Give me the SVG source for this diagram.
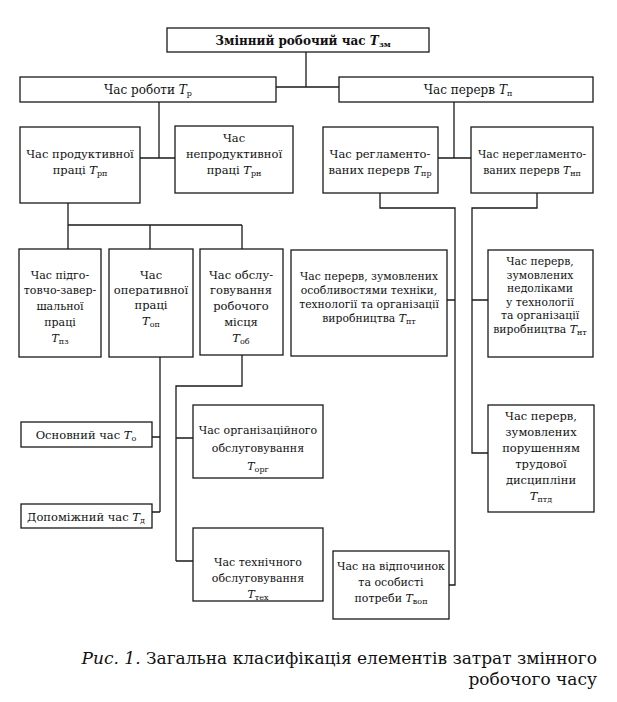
<svg xmlns="http://www.w3.org/2000/svg" width="617" height="702" viewBox="0 0 617 702">
<style>
rect.b{fill:#fff;stroke:#1a1a1a;stroke-width:1.3}
text{font-family:"DejaVu Serif","Liberation Serif",serif;font-size:11.5px;fill:#111;text-anchor:middle}
.i{font-style:italic}
.s{font-size:8px}
#connectors path{fill:none;stroke:#1a1a1a;stroke-width:1.3}
text.cap{font-size:17px;text-anchor:end}
text.t{font-size:10.8px}
text.m{font-size:12px}
text.k{font-size:11px}
</style>
<rect width="617" height="702" fill="#fff"/>
<g id="connectors">
<path d="M306,52V87M276,87H339"/>
<path d="M159,102V158M140,158H175"/>
<path d="M454,102V158M438,158H471"/>
<path d="M68,203V225M68,225H242M68,225V249M150,225V249M242,225V249"/>
<path d="M160,357V512M152,437H160M152,512H160"/>
<path d="M242,355V386H176V561M176,438H193M176,561H193"/>
<path d="M380,193V208H455V585H449M447,300H455"/>
<path d="M537,193V208H472V453H488M472,300H488"/>
</g>
<g id="n-total"><rect class="b" x="167" y="28" width="262" height="24"/>
<text class="m" x="303" y="45" font-weight="bold" font-size="12.5">Змінний робочий час <tspan class="i">T</tspan><tspan class="s" dy="2">зм</tspan></text></g>
<g id="n-work"><rect class="b" x="20" y="77" width="256" height="25"/>
<text class="m" x="148" y="94">Час роботи <tspan class="i">T</tspan><tspan class="s" dy="2">р</tspan></text></g>
<g id="n-breaks"><rect class="b" x="339" y="77" width="254" height="25"/>
<text class="m" x="468" y="94">Час перерв <tspan class="i">T</tspan><tspan class="s" dy="2">п</tspan></text></g>
<g id="n-prod"><rect class="b" x="20" y="127" width="120" height="76"/>
<text x="80" y="158">Час продуктивної</text>
<text x="80" y="174">праці   <tspan class="i">T</tspan><tspan class="s" dy="2">рп</tspan></text></g>
<g id="n-unprod"><rect class="b" x="175" y="126" width="118" height="67"/>
<text x="234" y="142">Час</text>
<text x="234" y="158">непродуктивної</text>
<text x="234" y="174">праці <tspan class="i">T</tspan><tspan class="s" dy="2">рн</tspan></text></g>
<g id="n-reg"><rect class="b" x="323" y="127" width="115" height="66"/>
<text x="380" y="158">Час регламенто-</text>
<text x="380" y="174">ваних перерв <tspan class="i">T</tspan><tspan class="s" dy="2">пр</tspan></text></g>
<g id="n-nonreg"><rect class="b" x="471" y="127" width="122" height="66"/>
<text class="t" x="532" y="158">Час нерегламенто-</text>
<text class="t" x="532" y="174">ваних перерв <tspan class="i">T</tspan><tspan class="s" dy="2">нп</tspan></text></g>
<g id="n-pz"><rect class="b" x="19" y="249" width="82" height="108"/>
<text class="k" x="60" y="279">Час підго-</text>
<text class="k" x="60" y="294">товчо-завер-</text>
<text class="k" x="60" y="310">шальної</text>
<text class="k" x="60" y="326">праці</text>
<text class="k" x="60" y="342"><tspan class="i">T</tspan><tspan class="s" dy="2">пз</tspan></text></g>
<g id="n-op"><rect class="b" x="109" y="249" width="84" height="108"/>
<text x="151" y="279">Час</text>
<text x="151" y="294">оперативної</text>
<text x="151" y="309">праці</text>
<text x="151" y="325"><tspan class="i">T</tspan><tspan class="s" dy="2">оп</tspan></text></g>
<g id="n-ob"><rect class="b" x="200" y="249" width="83" height="106"/>
<text x="241" y="279">Час обслу-</text>
<text x="241" y="294">говування</text>
<text x="241" y="310">робочого</text>
<text x="241" y="326">місця</text>
<text x="241" y="342"><tspan class="i">T</tspan><tspan class="s" dy="2">об</tspan></text></g>
<g id="n-pt"><rect class="b" x="291" y="250" width="156" height="106"/>
<text class="t" x="369" y="280">Час перерв, зумовлених</text>
<text class="t" x="369" y="294">особливостями техніки,</text>
<text class="t" x="369" y="308">технології та організації</text>
<text class="t" x="369" y="322">виробництва <tspan class="i">T</tspan><tspan class="s" dy="2">пт</tspan></text></g>
<g id="n-nt"><rect class="b" x="488" y="250" width="105" height="107"/>
<text class="t" x="540" y="265">Час перерв,</text>
<text class="t" x="540" y="279">зумовлених</text>
<text class="t" x="540" y="292">недоліками</text>
<text class="t" x="540" y="306">у технології</text>
<text class="t" x="540" y="319">та організації</text>
<text class="t" x="540" y="333">виробництва <tspan class="i">T</tspan><tspan class="s" dy="2">нт</tspan></text></g>
<g id="n-main"><rect class="b" x="21" y="422" width="131" height="25"/>
<text x="86" y="439">Основний час <tspan class="i">T</tspan><tspan class="s" dy="2">о</tspan></text></g>
<g id="n-aux"><rect class="b" x="21" y="504" width="131" height="24"/>
<text x="86" y="521">Допоміжний час <tspan class="i">T</tspan><tspan class="s" dy="2">д</tspan></text></g>
<g id="n-org"><rect class="b" x="193" y="405" width="130" height="73"/>
<text class="k" x="258" y="434">Час організаційного</text>
<text class="k" x="258" y="452">обслуговування</text>
<text class="k" x="258" y="470"><tspan class="i">T</tspan><tspan class="s" dy="2">орг</tspan></text></g>
<g id="n-tech"><rect class="b" x="193" y="528" width="130" height="73"/>
<text class="k" x="258" y="566">Час технічного</text>
<text class="k" x="258" y="582">обслуговування</text>
<text class="k" x="258" y="598"><tspan class="i">T</tspan><tspan class="s" dy="2">тех</tspan></text></g>
<g id="n-rest"><rect class="b" x="333" y="551" width="116" height="68"/>
<text class="k" x="391" y="570">Час на відпочинок</text>
<text class="k" x="391" y="586">та особисті</text>
<text class="k" x="391" y="602">потреби <tspan class="i">T</tspan><tspan class="s" dy="2">воп</tspan></text></g>
<g id="n-ptd"><rect class="b" x="488" y="405" width="106" height="107"/>
<text x="541" y="420">Час перерв,</text>
<text x="541" y="436">зумовлених</text>
<text x="541" y="452">порушенням</text>
<text x="541" y="468">трудової</text>
<text x="541" y="484">дисципліни</text>
<text x="541" y="500"><tspan class="i">T</tspan><tspan class="s" dy="2">птд</tspan></text></g>
<g id="caption">
<text class="cap" x="597" y="664"><tspan class="i">Рис. 1.</tspan> Загальна класифікація елементів затрат змінного</text>
<text class="cap" x="597" y="685">робочого часу</text>
</g>
</svg>
